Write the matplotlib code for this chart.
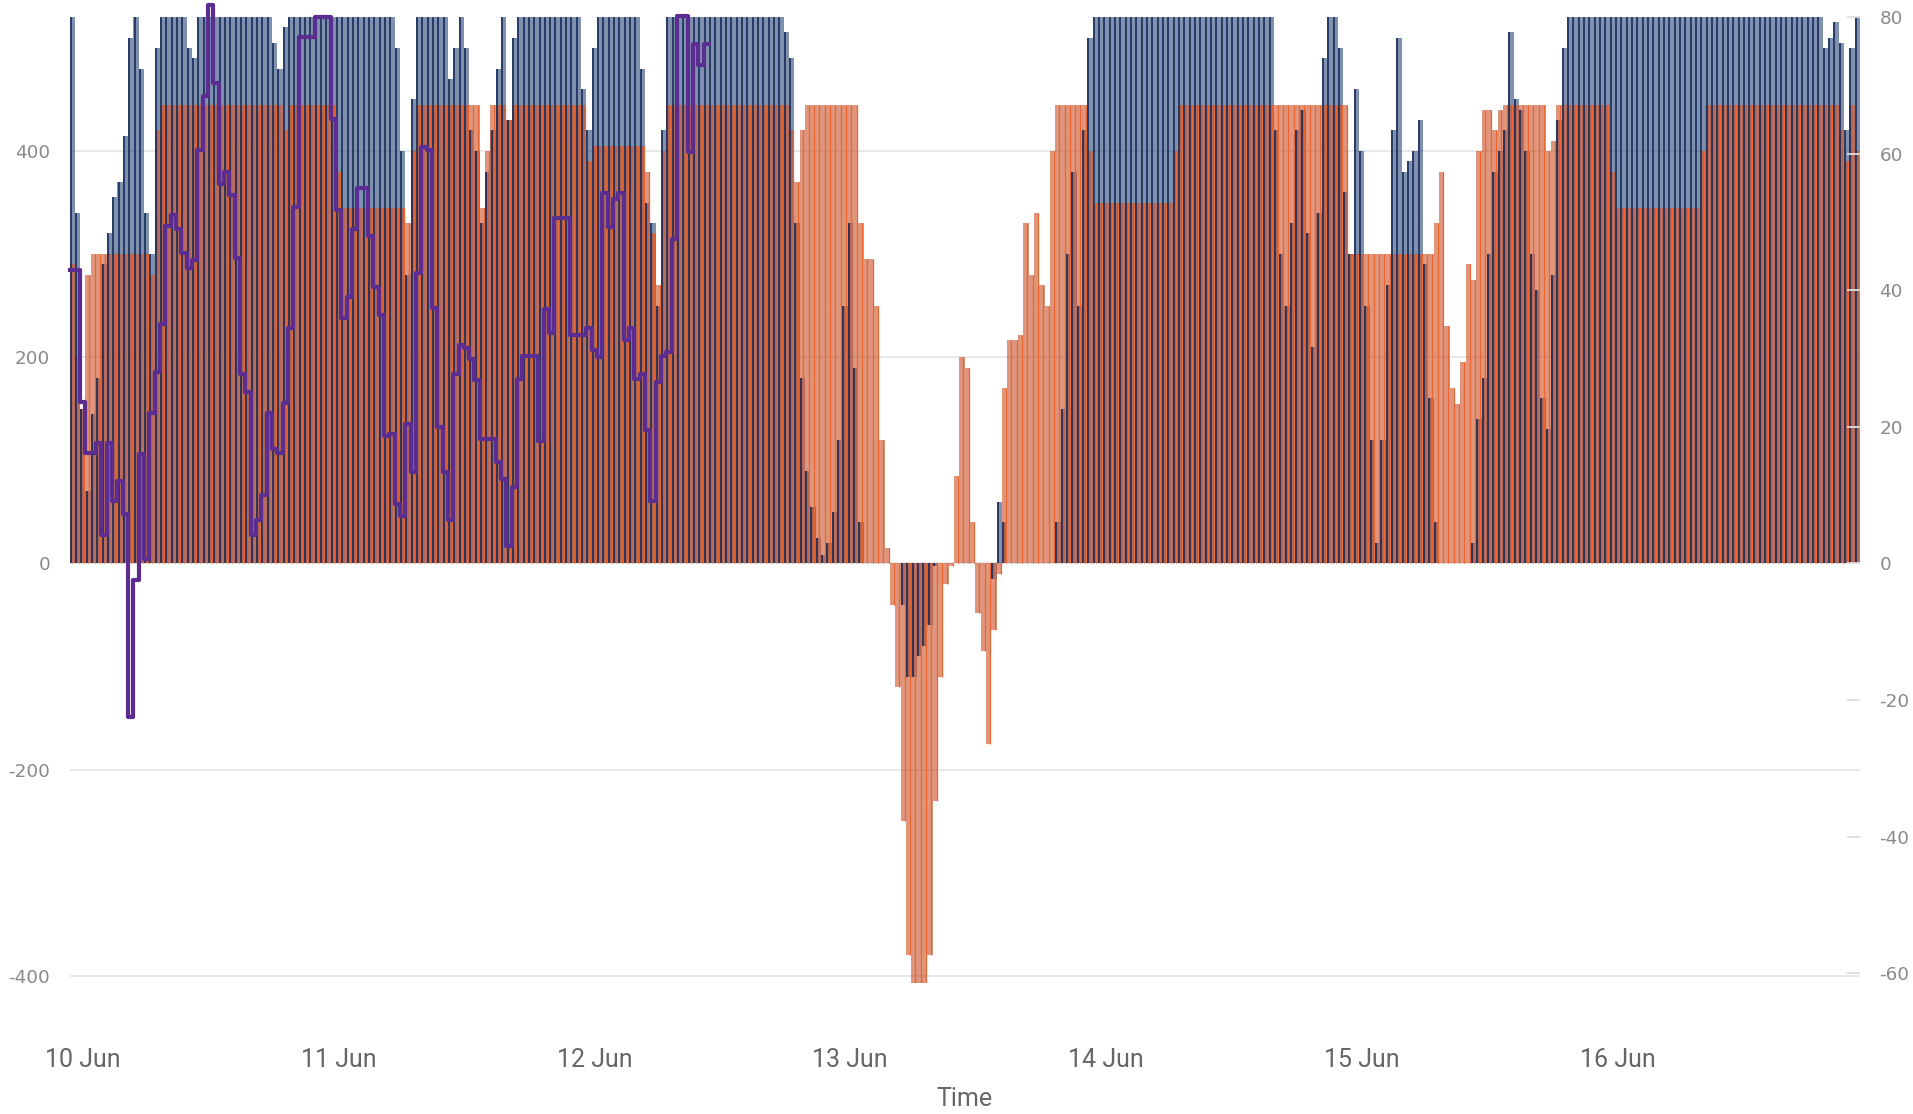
import matplotlib
matplotlib.use("Agg")
import matplotlib.pyplot as plt
import numpy as np

plt.rcParams["axes.unicode_minus"] = False

# half-hour slots, hours relative to 10 Jun 00:00 (first slot starts 9 Jun 22:45)
SLOT_H = 0.5
T0 = -1.25

# navy bars (left axis), one value per half-hour slot, 12 slots per row
NAVY = [
    530, 340, 150, 70, 145, 180, 290, 320, 355, 370, 415, 510,
    530, 480, 340, 300, 500, 530, 530, 530, 530, 530, 500, 490,
    530, 530, 530, 530, 530, 530, 530, 530, 530, 530, 530, 530,
    530, 530, 505, 480, 520, 530, 530, 530, 530, 530, 530, 530,
    530, 530, 530, 530, 530, 530, 530, 530, 530, 530, 530, 530,
    530, 500, 400, 280, 450, 530, 530, 530, 530, 530, 530, 470,
    500, 530, 500, 420, 400, 330, 380, 420, 480, 530, 430, 510,
    530, 530, 530, 530, 530, 530, 530, 530, 530, 530, 530, 530,
    460, 420, 500, 530, 530, 530, 530, 530, 530, 530, 530, 480,
    350, 330, 250, 420, 530, 530, 530, 530, 530, 530, 530, 530,
    530, 530, 530, 530, 530, 530, 530, 530, 530, 530, 530, 530,
    530, 530, 515, 490, 330, 180, 90, 55, 25, 8, 20, 50,
    120, 250, 330, 190, 40, 0, 0, 0, 0, 0, 0, 0,
    -40, -110, -110, -90, -80, -60, -3, 0, 0, 0, 0, 0,
    0, 0, 0, 0, 0, -15, 60, 40, 0, 0, 0, 0,
    0, 0, 0, 0, 0, 40, 150, 300, 380, 250, 420, 510,
    530, 530, 530, 530, 530, 530, 530, 530, 530, 530, 530, 530,
    530, 530, 530, 530, 530, 530, 530, 530, 530, 530, 530, 530,
    530, 530, 530, 530, 530, 530, 530, 530, 530, 530, 420, 300,
    250, 330, 420, 440, 320, 210, 340, 490, 530, 530, 500, 360,
    300, 460, 400, 250, 120, 20, 120, 270, 420, 510, 380, 390,
    400, 430, 290, 160, 40, 0, 0, 0, 0, 0, 0, 20,
    140, 180, 300, 380, 400, 420, 515, 450, 440, 400, 300, 265,
    160, 130, 280, 430, 500, 530, 530, 530, 530, 530, 530, 530,
    530, 530, 530, 530, 530, 530, 530, 530, 530, 530, 530, 530,
    530, 530, 530, 530, 530, 530, 530, 530, 530, 530, 530, 530,
    530, 530, 530, 530, 530, 530, 530, 530, 530, 530, 530, 530,
    530, 530, 530, 530, 530, 500, 510, 525, 505, 420, 500, 530,
]

# orange bars (left axis), same slots
ORANGE = [
    290, 200, 150, 280, 300, 300, 300, 300, 300, 300, 300, 300,
    300, 300, 300, 280, 420, 445, 445, 445, 445, 445, 445, 445,
    445, 445, 445, 445, 445, 445, 445, 445, 445, 445, 445, 445,
    445, 445, 445, 445, 420, 445, 445, 445, 445, 445, 445, 445,
    445, 445, 380, 345, 345, 345, 345, 345, 345, 345, 345, 345,
    345, 345, 345, 330, 400, 445, 445, 445, 445, 445, 445, 445,
    445, 445, 445, 445, 445, 345, 400, 445, 445, 445, 430, 445,
    445, 445, 445, 445, 445, 445, 445, 445, 445, 445, 445, 445,
    445, 390, 405, 405, 405, 405, 405, 405, 405, 405, 405, 405,
    380, 320, 270, 400, 445, 445, 445, 445, 445, 445, 445, 445,
    445, 445, 445, 445, 445, 445, 445, 445, 445, 445, 445, 445,
    445, 445, 445, 420, 370, 420, 445, 445, 445, 445, 445, 445,
    445, 445, 445, 445, 330, 295, 295, 250, 120, 15, -40, -120,
    -250, -380, -410, -410, -410, -380, -230, -110, -20, -3, 85, 200,
    190, 40, -48, -85, -175, -65, -10, 170, 217, 217, 222, 330,
    280, 340, 270, 250, 400, 445, 445, 445, 445, 445, 445, 400,
    350, 350, 350, 350, 350, 350, 350, 350, 350, 350, 350, 350,
    350, 350, 350, 400, 445, 445, 445, 445, 445, 445, 445, 445,
    445, 445, 445, 445, 445, 445, 445, 445, 445, 445, 445, 445,
    445, 445, 445, 445, 445, 445, 445, 445, 445, 445, 445, 445,
    300, 300, 300, 300, 300, 300, 300, 300, 300, 300, 300, 300,
    300, 300, 300, 300, 330, 380, 230, 170, 155, 195, 290, 275,
    400, 440, 440, 420, 440, 445, 445, 445, 445, 445, 445, 445,
    445, 400, 410, 445, 445, 445, 445, 445, 445, 445, 445, 445,
    445, 380, 345, 345, 345, 345, 345, 345, 345, 345, 345, 345,
    345, 345, 345, 345, 345, 345, 400, 445, 445, 445, 445, 445,
    445, 445, 445, 445, 445, 445, 445, 445, 445, 445, 445, 445,
    445, 445, 445, 445, 445, 445, 445, 445, 420, 390, 445, 400,
]

# purple step line (right axis), first 120 slots only
PURPLE = [
    43, 43, 23.7, 16.2, 16.2, 17.6, 4.2, 17.6, 9.2, 12, 7.3, -22.5,
    -2.5, 16, 0.6, 22, 28, 35, 49.4, 51, 49, 45.5, 43.3, 44.4,
    60.6, 68.4, 81.7, 70.4, 55.6, 57.3, 53.9, 44.7, 27.7, 25.1, 4.2, 6.4,
    10, 22, 16.8, 16.2, 23.5, 34.4, 52.2, 77, 77, 77, 80, 80,
    80, 65, 51.7, 36, 39, 48.9, 55, 55, 48, 40.5, 36.3, 18.7,
    19, 8.7, 7, 20.4, 13.4, 42.5, 61, 60.6, 37.4, 20, 13.4, 6.4,
    27.7, 32, 31.6, 29.9, 26.8, 18.2, 18.2, 18.2, 14.8, 12.3, 2.5, 11.2,
    27, 30.4, 30.4, 30.4, 17.9, 37.2, 33.8, 50.6, 50.6, 50.6, 33.5, 33.5,
    33.5, 34.4, 31.3, 30.2, 54.2, 49.2, 53.4, 54.2, 32.7, 34.4, 27, 27.7,
    19.6, 9.2, 26.5, 30.4, 31, 47.5, 80.2, 80.2, 60.3, 76, 72.9, 76,
]

X_TICKS = [0, 24, 48, 72, 96, 120, 144]
X_LABELS = ["10 Jun", "11 Jun", "12 Jun", "13 Jun", "14 Jun", "15 Jun", "16 Jun"]
LEFT_TICKS = [-400, -200, 0, 200, 400]
RIGHT_TICKS = [-60, -40, -20, 0, 20, 40, 60, 80]

NARROW = ["Liberation Sans Narrow", "Roboto", "DejaVu Sans"]

W, H = 1913, 1114
fig = plt.figure(figsize=(W / 100, H / 100), dpi=100)
ax = fig.add_axes([69.5 / W, 1 - 983 / H, (1860 - 69.5) / W, (983 - 17) / H])
ax2 = ax.twinx()

t = T0 + SLOT_H * np.arange(len(NAVY))
navy = np.array(NAVY, float)
orange = np.array(ORANGE, float)

# navy: translucent fill + thin dark strokes; orange overlaid on top
ax.bar(t, navy, width=SLOT_H, align="edge", color=(10 / 255, 45 / 255, 100 / 255, 0.52),
       linewidth=0, zorder=2)
ax.bar(t, orange, width=SLOT_H, align="edge", color=(204 / 255, 78 / 255, 38 / 255, 0.6),
       linewidth=0, zorder=3)
ax.vlines(t + 0.36, 0, orange, color="#ea6630", lw=0.9, zorder=3.1)
ax.vlines(t + 0.1, 0, navy, color="#0f2553", lw=1.3, alpha=0.85, zorder=3.2)

pt = T0 + SLOT_H * np.arange(len(PURPLE) + 1)
pv = np.append(PURPLE, PURPLE[-1])
ax2.step(pt, pv, where="post", color="#5c2d91", lw=3.0, clip_on=False, zorder=5)

ax.set_xlim(T0, T0 + SLOT_H * len(NAVY))
ax.set_ylim(-407, 530)
ax2.set_ylim(-407 / 6.625, 80)

for a in (ax, ax2):
    for s in a.spines.values():
        s.set_visible(False)

ax.set_yticks(LEFT_TICKS)
ax.set_yticklabels([str(v) for v in LEFT_TICKS])
ax.yaxis.grid(True, color="#e6e6e6", lw=1.3)
ax.set_axisbelow(True)
ax.tick_params(axis="y", length=0, pad=14, labelsize=13.2, labelcolor="#8a8a8a")

ax.set_xticks(X_TICKS)
ax.set_xticklabels(X_LABELS)
ax.tick_params(axis="x", length=0, pad=47, labelsize=18, labelcolor="#666666")
for lab in ax.get_xticklabels():
    lab.set_fontfamily(NARROW)

ax2.set_yticks(RIGHT_TICKS)
ax2.set_yticklabels([str(v) for v in RIGHT_TICKS])
ax2.tick_params(axis="y", direction="in", length=9.5, width=1.3, color="#dddddd",
                pad=14, labelsize=13.2, labelcolor="#8a8a8a")

ax.set_xlabel("Time", fontsize=18, color="#666666", family=NARROW)
ax.xaxis.set_label_coords(0.5, -0.12)
ax.xaxis.label.set_va("center")

fig.savefig("out.png", dpi=100)
